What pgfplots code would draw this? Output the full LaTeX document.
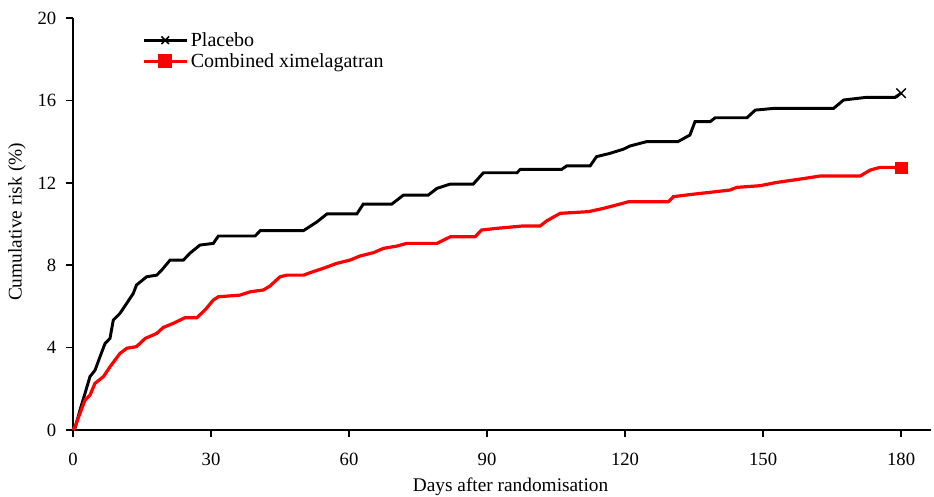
\documentclass[border=0pt]{standalone}
\usepackage{fontspec}
\setmainfont{Liberation Serif}
\usepackage{pgfplots}
\pgfplotsset{compat=1.18}
\begin{document}
\begin{tikzpicture}
\begin{axis}[
  name=ax,
  scale only axis,
  width=643.4pt, height=309pt,
  xmin=0, xmax=186.5, ymin=0, ymax=20,
  axis x line*=bottom, axis y line*=left,
  axis line style={line width=1.3pt},
  xtick={0,30,...,180}, ytick={0,4,...,20},
  tick align=outside,
  major tick length=5pt,
  tick style={line width=1.2pt, black},
  minor tick num=0,
  /pgf/number format/assume math mode=true,
  tick label style={font=\fontsize{14}{16}\selectfont},
  x tick label style={yshift=-9pt},
  y tick label style={xshift=-4pt},
  xlabel={Days after randomisation},
  ylabel={Cumulative risk (\%)},
  every axis x label/.style={at={([yshift=-42.75pt]axis description cs:0.51,0)}, anchor=center,
                             font=\fontsize{14.5}{16}\selectfont},
  every axis y label/.style={at={([xshift=-42pt]axis description cs:0,0.505)}, anchor=center, rotate=90,
                             font=\fontsize{14.5}{16}\selectfont},
  legend style={draw=none, fill=none, at={(axis cs:15,19.45)}, anchor=north west,
                font=\fontsize{15}{17}\selectfont, inner sep=0pt, row sep=0pt},
  legend cell align=left,
  legend image code/.code={\draw[mark repeat=2, mark phase=2, #1] plot coordinates {(0pt,0pt) (16pt,0pt) (32pt,0pt)};},
  clip=false,
]
\addlegendimage{black, line width=2.2pt, mark=x, mark size=4pt, mark options={line width=1.2pt}}
\addlegendentry{Placebo}
\addlegendimage{red, line width=2.4pt, mark=square*, mark size=4pt}
\addlegendentry{Combined ximelagatran}

% Placebo
\addplot[black, line width=2.2pt, forget plot] coordinates {
  (0,0) (0.43,0.08) (1.52,0.97) (2.61,1.78) (3.70,2.6) (4.78,2.9) (5.87,3.56)
  (6.96,4.2) (8.04,4.45) (8.76,5.34) (10.2,5.66) (11.7,6.16) (13.1,6.63)
  (13.8,7.04) (16.0,7.44) (18.2,7.52) (19.3,7.77) (21.1,8.25) (24.0,8.25)
  (25.4,8.58) (27.6,8.98) (30.5,9.06) (31.6,9.42) (39.6,9.42) (40.7,9.68)
  (50.1,9.68) (53.0,10.1) (55.2,10.49) (61.7,10.49) (63.1,10.97) (69.3,10.97)
  (71.8,11.4) (77.2,11.4) (79.1,11.73) (82.0,11.94) (87.0,11.94) (89.2,12.49)
  (96.5,12.49) (97.2,12.65) (106.2,12.65) (107.3,12.82) (112.4,12.82)
  (113.8,13.27) (116.7,13.43) (119.6,13.63) (121.1,13.79) (124.7,14.0)
  (131.5,14.0) (134.1,14.32) (135.2,14.97) (138.5,14.97) (139.6,15.16)
  (146.5,15.16) (148.3,15.53) (152.2,15.61) (165.3,15.61) (167.5,16.02)
  (172.5,16.15) (178.7,16.15) (180,16.35)
};
\addplot[only marks, mark=x, mark size=5pt, mark options={black, line width=1pt}, forget plot]
  coordinates {(180,16.35)};

% Combined ximelagatran
\addplot[red, line width=2.4pt, forget plot] coordinates {
  (0,0) (0.43,0.16) (1.52,0.81) (2.61,1.46) (3.70,1.7) (4.78,2.27) (6.6,2.59)
  (8.04,3.07) (10.2,3.72) (11.7,3.97) (13.8,4.05) (15.7,4.45) (18.2,4.69)
  (19.6,4.98) (21.8,5.18) (24.3,5.45) (26.9,5.45) (28.7,5.83) (30.5,6.31)
  (31.6,6.47) (36.3,6.55) (38.5,6.71) (41.4,6.8) (42.8,6.99) (45.0,7.44)
  (46.5,7.52) (50.1,7.52) (52.2,7.69) (54.4,7.85) (57.3,8.09) (60.2,8.25)
  (62.4,8.45) (65.3,8.61) (67.5,8.82) (70.4,8.93) (72.5,9.06) (79.1,9.06)
  (82.0,9.38) (87.4,9.38) (88.8,9.71) (92.1,9.79) (97.5,9.9) (101.5,9.9)
  (103.0,10.16) (105.9,10.52) (112.0,10.6) (115.3,10.76) (118.9,10.97)
  (120.7,11.08) (129.4,11.08) (130.5,11.33) (134.5,11.44) (138.5,11.54)
  (142.8,11.65) (144.3,11.78) (149.3,11.86) (153.0,12.02) (157.7,12.17)
  (162.4,12.33) (171.1,12.33) (173.3,12.62) (175.4,12.75) (178.3,12.75)
  (180,12.72)
};
\addplot[only marks, mark=square*, mark size=4.3pt, mark options={red}, forget plot]
  coordinates {(180,12.72)};
\end{axis}
\pgfresetboundingbox
\path ([shift={(-54.75pt,-49.5pt)}]ax.south west) rectangle ([shift={(2.25pt,13.5pt)}]ax.north east);
\end{tikzpicture}
\end{document}
